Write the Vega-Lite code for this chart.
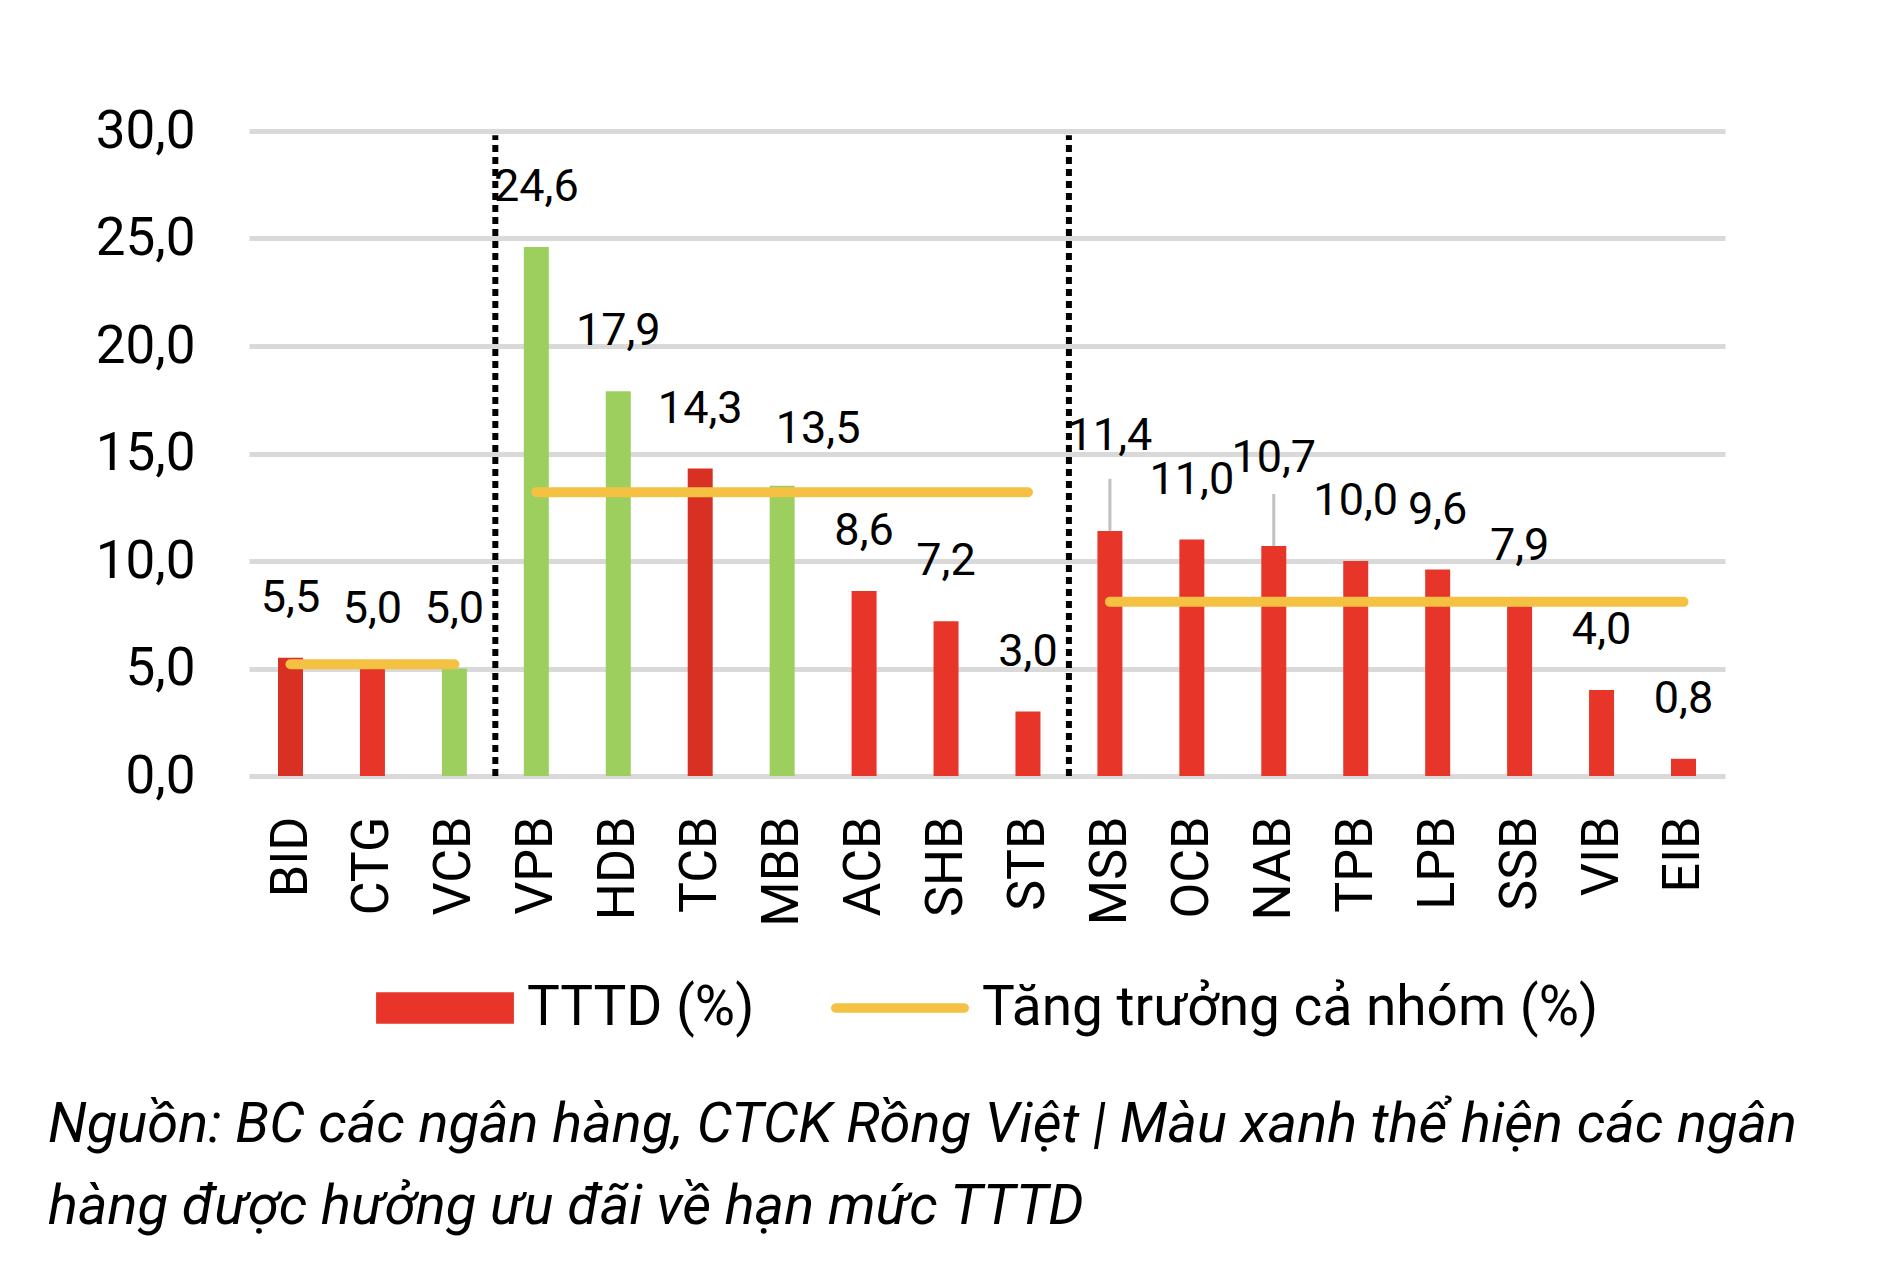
{
  "$schema": "https://vega.github.io/schema/vega-lite/v6.json",
  "autosize": {"type": "none"},
  "padding": {"left": 249, "top": 131, "right": 163, "bottom": 490},
  "width": 1476,
  "height": 645,
  "background": "#FFFFFF",
  "config": {
    "font": "Roboto",
    "view": {"stroke": null},
    "locale": {"number": {"decimal": ",", "thousands": ".", "grouping": [3], "currency": ["", " đ"]}}
  },
  "title": {
    "text": ["Nguồn: BC các ngân hàng, CTCK Rồng Việt | Màu xanh thể hiện các ngân", "hàng được hưởng ưu đãi về hạn mức TTTD"],
    "orient": "bottom",
    "anchor": "start",
    "frame": "group",
    "dx": -201,
    "offset": 62,
    "fontSize": 56,
    "fontStyle": "italic",
    "fontWeight": "normal",
    "lineHeight": 82,
    "color": "#000000"
  },
  "data": {
    "values": [
      {"ngan_hang": "BID", "tttd": 5.5, "loai": "TTTD (%) - đậm", "nhom": "Nhóm 1", "tb_nhom": 5.2},
      {"ngan_hang": "CTG", "tttd": 5.0, "loai": "TTTD (%)", "nhom": "Nhóm 1", "tb_nhom": 5.2},
      {"ngan_hang": "VCB", "tttd": 5.0, "loai": "TTTD (%) - ưu đãi", "nhom": "Nhóm 1", "tb_nhom": 5.2},
      {"ngan_hang": "VPB", "tttd": 24.6, "loai": "TTTD (%) - ưu đãi", "nhom": "Nhóm 2", "tb_nhom": 13.2},
      {"ngan_hang": "HDB", "tttd": 17.9, "loai": "TTTD (%) - ưu đãi", "nhom": "Nhóm 2", "tb_nhom": 13.2},
      {"ngan_hang": "TCB", "tttd": 14.3, "loai": "TTTD (%) - đậm", "nhom": "Nhóm 2", "tb_nhom": 13.2},
      {"ngan_hang": "MBB", "tttd": 13.5, "loai": "TTTD (%) - ưu đãi", "nhom": "Nhóm 2", "tb_nhom": 13.2},
      {"ngan_hang": "ACB", "tttd": 8.6, "loai": "TTTD (%)", "nhom": "Nhóm 2", "tb_nhom": 13.2},
      {"ngan_hang": "SHB", "tttd": 7.2, "loai": "TTTD (%)", "nhom": "Nhóm 2", "tb_nhom": 13.2},
      {"ngan_hang": "STB", "tttd": 3.0, "loai": "TTTD (%)", "nhom": "Nhóm 2", "tb_nhom": 13.2},
      {"ngan_hang": "MSB", "tttd": 11.4, "loai": "TTTD (%)", "nhom": "Nhóm 3", "tb_nhom": 8.1},
      {"ngan_hang": "OCB", "tttd": 11.0, "loai": "TTTD (%)", "nhom": "Nhóm 3", "tb_nhom": 8.1},
      {"ngan_hang": "NAB", "tttd": 10.7, "loai": "TTTD (%)", "nhom": "Nhóm 3", "tb_nhom": 8.1},
      {"ngan_hang": "TPB", "tttd": 10.0, "loai": "TTTD (%)", "nhom": "Nhóm 3", "tb_nhom": 8.1},
      {"ngan_hang": "LPB", "tttd": 9.6, "loai": "TTTD (%)", "nhom": "Nhóm 3", "tb_nhom": 8.1},
      {"ngan_hang": "SSB", "tttd": 7.9, "loai": "TTTD (%)", "nhom": "Nhóm 3", "tb_nhom": 8.1},
      {"ngan_hang": "VIB", "tttd": 4.0, "loai": "TTTD (%)", "nhom": "Nhóm 3", "tb_nhom": 8.1},
      {"ngan_hang": "EIB", "tttd": 0.8, "loai": "TTTD (%)", "nhom": "Nhóm 3", "tb_nhom": 8.1}
    ]
  },
  "encoding": {
    "x": {
      "field": "ngan_hang",
      "type": "nominal",
      "sort": null,
      "scale": {"paddingInner": 0.695, "paddingOuter": 0.354, "align": 0.5},
      "axis": {
        "title": null,
        "labelAngle": -90,
        "labelFontSize": 52,
        "labelColor": "#000000",
        "labelPadding": 40,
        "domain": false,
        "ticks": false,
        "grid": false
      }
    }
  },
  "layer": [
    {
      "mark": {"type": "bar"},
      "encoding": {
        "y": {
          "field": "tttd",
          "type": "quantitative",
          "scale": {"domain": [0, 30], "nice": false},
          "axis": {
            "title": null,
            "values": [0, 5, 10, 15, 20, 25, 30],
            "format": ".1f",
            "labelFontSize": 53,
            "labelColor": "#000000",
            "labelPadding": 54,
            "domain": false,
            "ticks": false,
            "grid": true,
            "gridColor": "#D9D9D9",
            "gridWidth": 5
          }
        },
        "color": {
          "field": "loai",
          "type": "nominal",
          "scale": {
            "domain": ["TTTD (%)", "Tăng trưởng cả nhóm (%)", "TTTD (%) - ưu đãi", "TTTD (%) - đậm"],
            "range": ["#E8352A", "#F4C143", "#9DCF5E", "#D83124"]
          },
          "legend": {
            "values": ["TTTD (%)", "Tăng trưởng cả nhóm (%)"],
            "title": null,
            "orient": "none",
            "direction": "horizontal",
            "legendX": 127,
            "legendY": 808,
            "symbolSize": 19000,
            "labelFontSize": 55,
            "labelColor": "#000000",
            "labelOffset": 13,
            "labelLimit": 1000,
            "columnPadding": 76,
            "encode": {
              "symbols": {
                "update": {
                  "shape": {"signal": "datum.value === 'TTTD (%)' ? 'M-1,-0.23H1V0.23H-1Z' : 'M-0.93,-0.07H0.93A0.07,0.07 0 0 1 0.93,0.07H-0.93A0.07,0.07 0 0 1 -0.93,-0.07Z'"},
                  "fill": {"signal": "datum.value === 'TTTD (%)' ? '#E8352A' : '#F4C143'"},
                  "stroke": {"value": "transparent"},
                  "strokeWidth": {"value": 0},
                  "opacity": {"value": 1}
                }
              }
            }
          }
        }
      }
    },
    {
      "data": {"values": [{"ngan_hang": "VPB"}, {"ngan_hang": "MSB"}]},
      "mark": {"type": "rule", "color": "#000000", "strokeWidth": 6, "strokeDash": [7, 5], "xOffset": -41},
      "encoding": {
        "y": {"datum": 0},
        "y2": {"datum": 29.8}
      }
    },
    {
      "mark": {"type": "line", "strokeWidth": 10, "strokeCap": "round"},
      "encoding": {
        "y": {"field": "tb_nhom", "type": "quantitative"},
        "detail": {"field": "nhom"},
        "color": {"datum": "Tăng trưởng cả nhóm (%)"}
      }
    },
    {
      "transform": [{"filter": {"field": "ngan_hang", "oneOf": ["MSB", "NAB"]}}],
      "mark": {"type": "tick", "orient": "vertical", "color": "#A6A6A6", "size": 52, "thickness": 3, "yOffset": -26},
      "encoding": {
        "y": {"field": "tttd", "type": "quantitative"}
      }
    },
    {
      "transform": [{"filter": {"not": {"field": "ngan_hang", "oneOf": ["MSB", "NAB", "MBB"]}}}],
      "mark": {"type": "text", "fontSize": 45, "baseline": "middle", "dy": -60, "color": "#000000"},
      "encoding": {
        "y": {"field": "tttd", "type": "quantitative"},
        "text": {"field": "tttd", "type": "quantitative", "format": ".1f"}
      }
    },
    {
      "transform": [{"filter": {"field": "ngan_hang", "equal": "MBB"}}],
      "mark": {"type": "text", "fontSize": 45, "baseline": "middle", "dy": -57, "dx": 36, "color": "#000000"},
      "encoding": {
        "y": {"field": "tttd", "type": "quantitative"},
        "text": {"field": "tttd", "type": "quantitative", "format": ".1f"}
      }
    },
    {
      "transform": [{"filter": {"field": "ngan_hang", "equal": "MSB"}}],
      "mark": {"type": "text", "fontSize": 45, "baseline": "middle", "dy": -95, "color": "#000000"},
      "encoding": {
        "y": {"field": "tttd", "type": "quantitative"},
        "text": {"field": "tttd", "type": "quantitative", "format": ".1f"}
      }
    },
    {
      "transform": [{"filter": {"field": "ngan_hang", "equal": "NAB"}}],
      "mark": {"type": "text", "fontSize": 45, "baseline": "middle", "dy": -88, "color": "#000000"},
      "encoding": {
        "y": {"field": "tttd", "type": "quantitative"},
        "text": {"field": "tttd", "type": "quantitative", "format": ".1f"}
      }
    }
  ]
}
